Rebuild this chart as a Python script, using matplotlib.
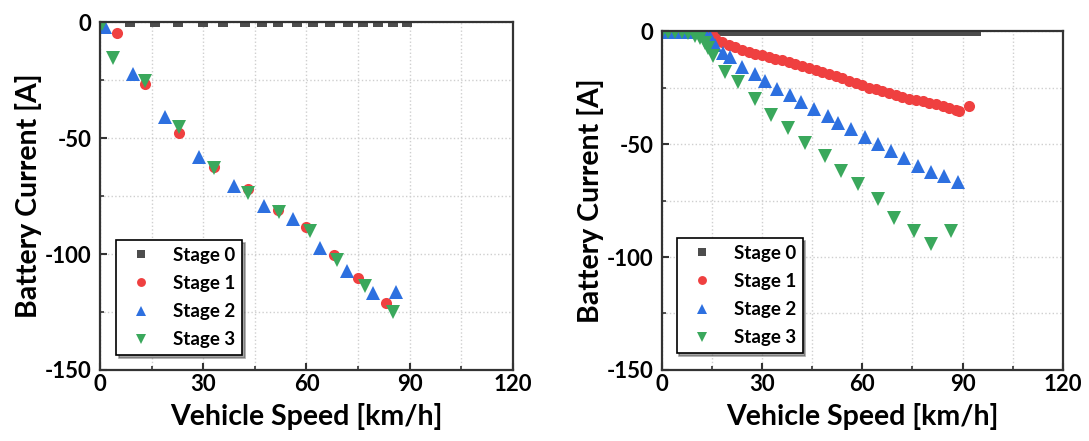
import matplotlib
matplotlib.use("Agg")
import matplotlib.pyplot as plt
from matplotlib.ticker import MultipleLocator

plt.rcParams['font.family'] = ['Lato', 'DejaVu Sans']
plt.rcParams['font.weight'] = 'bold'
plt.rcParams['axes.unicode_minus'] = False

# ---- left panel ----
left_s0_speed = [8.7, 16.0, 22.7, 30.0, 35.8, 42.2, 47.1, 51.7, 57.3, 61.9,
                 66.9, 72.1, 76.5, 80.8, 85.2, 89.2]
left_s0_current = [0] * len(left_s0_speed)

left_s1_speed = [5.0, 13.1, 23.1, 33.1, 43.1, 51.8, 59.9, 68.0, 75.1, 83.1]
left_s1_current = [-4.9, -26.9, -48.0, -62.4, -72.0, -81.0, -88.5, -100.4, -110.5, -121.3]

left_s2_speed = [1.5, 9.7, 18.9, 28.9, 39.0, 47.7, 56.0, 64.0, 71.9, 79.3, 86.0]
left_s2_current = [-2.0, -22.4, -41.1, -58.0, -70.5, -79.3, -85.1, -97.6, -107.2, -116.9, -116.2]

left_s3_speed = [0.5, 3.9, 13.1, 23.1, 33.1, 43.1, 52.1, 61.0, 69.0, 77.0, 85.1]
left_s3_current = [-0.8, -15.6, -25.4, -45.4, -63.1, -73.5, -81.8, -89.9, -102.6, -113.8, -124.9]

# ---- right panel ----
right_s0_speed = [0, 2, 4, 6, 8, 10, 12, 14, 16, 18, 20, 22, 24, 26, 28, 30,
                  32, 34, 36, 38, 40, 42, 44, 46, 48, 50, 52, 54, 56, 58, 60,
                  62, 64, 66, 68, 70, 72, 74, 76, 78, 80, 82, 84, 86, 88, 90,
                  92, 94]
right_s0_current = [0] * len(right_s0_speed)

right_s1_speed = [0, 2, 4, 6, 8, 10, 12, 14, 15, 16, 18, 20, 22, 24, 26, 28,
                  30, 32, 34, 36, 38, 40, 42, 44, 46, 48, 50, 52, 54, 56, 58,
                  60, 62, 64, 66, 68, 70, 72, 74, 76, 78, 80, 82, 84, 86, 88,
                  89, 92]
right_s1_current = [-0.5, -0.5, -0.5, -0.5, -0.5, -0.5, -0.5, -0.5, -1.5, -3.0,
                    -4.8, -6.0, -7.2, -8.3, -9.2, -10.0, -10.8, -11.5, -12.2,
                    -13.0, -13.8, -14.6, -15.5, -16.4, -17.3, -18.2, -19.2,
                    -20.1, -21.0, -22.0, -23.0, -24.0, -25.0, -25.8, -26.5,
                    -27.4, -28.3, -29.1, -29.9, -30.5, -31.1, -31.7, -32.4,
                    -33.1, -33.9, -34.9, -35.2, -33.4]

right_s2_speed = [1, 4, 7, 10, 13, 14.4, 15.9, 18.4, 20.4, 23.9, 27.8, 30.8,
                  34.5, 38.3, 41.8, 45.4, 49.7, 52.7, 56.7, 60.7, 64.6, 68.6,
                  72.6, 76.6, 80.6, 84.5, 88.5]
right_s2_current = [-0.5, -0.5, -0.5, -0.5, -1.0, -2.5, -6.2, -9.9, -11.4,
                    -15.9, -19.1, -22.3, -25.5, -28.5, -31.5, -34.4, -37.4,
                    -40.8, -43.3, -47.1, -50.0, -53.3, -56.0, -59.7, -62.6,
                    -64.1, -66.6]

right_s3_speed = [0, 2, 4, 6, 8, 10, 11.5, 13, 14, 15.2, 19, 22.9, 27.8, 32.8,
                  37.8, 42.8, 48.7, 53.7, 58.7, 64.6, 69.6, 75.6, 80.6, 86.5]
right_s3_current = [-0.3, -0.3, -0.3, -0.5, -1.0, -2.0, -3.0, -5.5, -7.5, -11.0,
                    -18.0, -22.5, -30.0, -37.0, -43.0, -49.6, -55.2, -62.0,
                    -67.8, -74.5, -82.6, -88.3, -94.2, -88.6]

labels = ['Stage 0', 'Stage 1', 'Stage 2', 'Stage 3']
colors = ['#4d4d4d', '#ef4040', '#2d70e0', '#3aa85c']
markers = ['s', 'o', '^', 'v']
sizes = [7.5, 8, 9.5, 9.5]


def style_axes(ax):
    ax.set_xlim(0, 120)
    ax.set_ylim(-150, 0)
    ax.xaxis.set_major_locator(MultipleLocator(30))
    ax.xaxis.set_minor_locator(MultipleLocator(15))
    ax.yaxis.set_major_locator(MultipleLocator(50))
    ax.yaxis.set_minor_locator(MultipleLocator(25))
    ax.grid(True, which='both', linestyle=':', color='#cfcfcf', linewidth=1)
    ax.set_axisbelow(True)
    ax.tick_params(which='major', direction='in', length=5, width=1.5,
                   labelsize=16, pad=3, color='#333333')
    ax.tick_params(axis='y', which='major', pad=6)
    ax.tick_params(which='minor', direction='in', length=3, width=1.2,
                   color='#333333')
    for sp in ax.spines.values():
        sp.set_linewidth(1.6)
        sp.set_color('#333333')
    ax.set_xlabel('Vehicle Speed [km/h]', fontsize=20.5, fontweight='bold',
                  labelpad=6)
    ax.set_ylabel('Battery Current [A]', fontsize=20.5, fontweight='bold',
                  labelpad=2)


def draw(ax, series, anchor):
    for (sx, sy), lab, c, m, ms in zip(series, labels, colors, markers, sizes):
        ax.plot(sx, sy, linestyle='', marker=m, markersize=ms, color=c,
                markeredgewidth=0, label=lab)
    style_axes(ax)
    leg = ax.legend(loc='lower left', bbox_to_anchor=anchor, borderaxespad=0,
                    fontsize=13.5, frameon=True, fancybox=False, shadow=True,
                    edgecolor='black', framealpha=1, handletextpad=0.7,
                    markerscale=0.8, labelspacing=0.6, borderpad=0.35,
                    handlelength=2.0)
    leg.get_frame().set_linewidth(1.2)
    for t in leg.get_texts():
        t.set_fontweight('bold')


fig = plt.figure(figsize=(10.89, 4.41), dpi=100)
ax1 = fig.add_axes([0.0918, 0.161, 0.3792, 0.789])
ax2 = fig.add_axes([0.6076, 0.161, 0.3685, 0.7687])

draw(ax1, [(left_s0_speed, left_s0_current), (left_s1_speed, left_s1_current),
           (left_s2_speed, left_s2_current), (left_s3_speed, left_s3_current)],
     (0.039, 0.043))
draw(ax2, [(right_s0_speed, right_s0_current), (right_s1_speed, right_s1_current),
           (right_s2_speed, right_s2_current), (right_s3_speed, right_s3_current)],
     (0.037, 0.05))

fig.savefig('out.png', dpi=100)
